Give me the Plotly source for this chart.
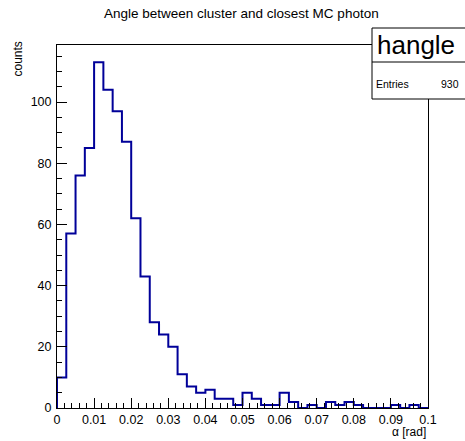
import plotly.graph_objects as go

# ---- data ----
title_text = "Angle between cluster and closest MC photon"
hist_name = "hangle"
entries = 930
x_min, x_max, n_bins = 0.0, 0.1, 40
counts = [10, 57, 76, 85, 113, 104, 97, 87, 62, 43,
          28, 24, 20, 11, 7, 5, 6, 3, 3, 1,
          5, 3, 1, 1, 5, 2, 0, 1, 0, 2,
          1, 2, 1, 0, 0, 0, 1, 0, 1, 0]
x_tick_vals = [0, 0.01, 0.02, 0.03, 0.04, 0.05, 0.06, 0.07, 0.08, 0.09, 0.1]
x_tick_text = ["0", "0.01", "0.02", "0.03", "0.04", "0.05", "0.06", "0.07", "0.08", "0.09", "0.1"]
y_tick_vals = [0, 20, 40, 60, 80, 100]
y_tick_text = ["0", "20", "40", "60", "80", "100"]

# ---- geometry ----
W, H = 465, 441
L, R, T, B = 57, 37, 45, 33
pw, ph = W - L - R, H - T - B

def px2x(px):
    return (px - L) / pw

def py2y(py):
    return (H - B - py) / ph

bw = (x_max - x_min) / n_bins
edges = [x_min + i * bw for i in range(n_bins + 1)]
xs = [edges[0]] + edges + [edges[-1]]
ys = [0] + counts + [counts[-1], 0]

FONT = "Liberation Sans, Arial, Helvetica, sans-serif"

fig = go.Figure()
fig.add_trace(go.Scatter(x=xs, y=ys, mode="lines", line=dict(shape="hv", color="#000099", width=2),
                         hoverinfo="skip", showlegend=False))

ymax = max(counts) * 1.05
fig.update_layout(
    width=W, height=H,
    margin=dict(l=L, r=R, t=T, b=B, pad=0),
    paper_bgcolor="white", plot_bgcolor="white",
    font=dict(family=FONT, size=12, color="black"),
    showlegend=False,
    xaxis=dict(range=[x_min, x_max], tickvals=x_tick_vals, ticktext=x_tick_text,
               ticks="inside", ticklen=10, tickwidth=1, tickcolor="black",
               showline=True, linecolor="black", linewidth=1, mirror=True,
               showgrid=False, zeroline=False, tickfont=dict(size=12.5),
               minor=dict(dtick=0.002, tick0=0, ticks="inside", ticklen=5, tickcolor="black", showgrid=False)),
    yaxis=dict(range=[0, ymax], tickvals=y_tick_vals, ticktext=y_tick_text,
               ticks="inside", ticklen=10, tickwidth=1, tickcolor="black",
               showline=True, linecolor="black", linewidth=1, mirror=True,
               showgrid=False, zeroline=False, tickfont=dict(size=12.5), ticklabelstandoff=2,
               minor=dict(dtick=5, tick0=0, ticks="inside", ticklen=5, tickcolor="black", showgrid=False)),
)

# title
fig.add_annotation(text=title_text, xref="paper", yref="paper", x=px2x(241), y=py2y(13),
                   xanchor="center", yanchor="middle", showarrow=False, font=dict(size=13.5, family=FONT))
# axis titles
fig.add_annotation(text="counts", xref="paper", yref="paper", x=px2x(18), y=py2y(40),
                   xanchor="center", yanchor="top", textangle=-90, showarrow=False, font=dict(size=12, family=FONT))
fig.add_annotation(text="\u03b1 [rad]", xref="paper", yref="paper", x=px2x(428), y=py2y(432),
                   xanchor="right", yanchor="middle", showarrow=False, font=dict(size=12, family=FONT))

# stats box
fig.add_shape(type="rect", xref="paper", yref="paper", x0=px2x(372), x1=px2x(472), y0=py2y(99), y1=py2y(28),
              line=dict(color="black", width=1), fillcolor="white", layer="above")
fig.add_shape(type="line", xref="paper", yref="paper", x0=px2x(372), x1=px2x(472), y0=py2y(62), y1=py2y(62),
              line=dict(color="black", width=1), layer="above")
fig.add_annotation(text=hist_name, xref="paper", yref="paper", x=px2x(375), y=py2y(45),
                   xanchor="left", yanchor="middle", showarrow=False, font=dict(size=26, family=FONT))
fig.add_annotation(text="Entries", xref="paper", yref="paper", x=px2x(374), y=py2y(84),
                   xanchor="left", yanchor="middle", showarrow=False, font=dict(size=10.5, family=FONT))
fig.add_annotation(text=str(entries), xref="paper", yref="paper", x=px2x(461), y=py2y(84),
                   xanchor="right", yanchor="middle", showarrow=False, font=dict(size=10.5, family=FONT))

fig.write_html("out.html")
